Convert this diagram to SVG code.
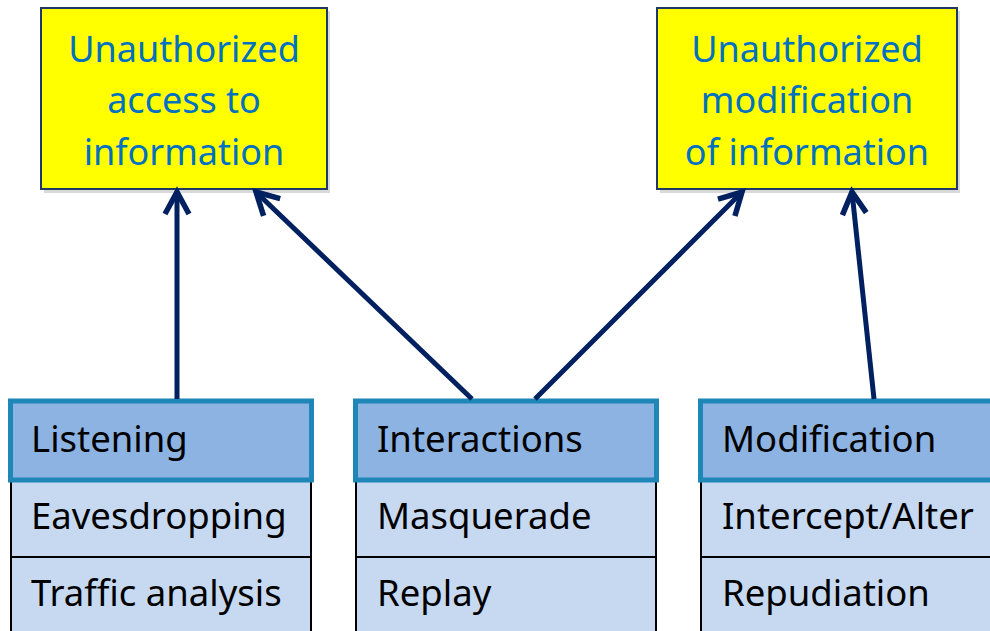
<svg xmlns="http://www.w3.org/2000/svg" width="990" height="631" viewBox="0 0 990 631">
  <style>
    .goal { fill: #FFFF00; stroke: #1F3864; stroke-width: 2; }
    .shadow { fill: #D9D9D9; }
    .goal-text { font-family: "Noto Sans", "Open Sans", sans-serif; font-size: 36px; fill: #0070C0; text-anchor: middle; }
    .head { fill: #8DB3E2; stroke: #1F86B8; stroke-width: 5; }
    .row { fill: #C6D9F1; stroke: #000000; stroke-width: 2; }
    .cell-text { font-family: "Noto Sans", "Open Sans", sans-serif; font-size: 36.5px; fill: #000000; }
    .link { fill: none; stroke: #002060; stroke-width: 5; }
  </style>
  <defs>
    <marker id="open-arrow" markerUnits="userSpaceOnUse" markerWidth="40" markerHeight="40" viewBox="-30 -20 40 40" refX="0" refY="0" orient="auto">
      <path d="M -22 -12 L 0 0 L -22 12" fill="none" stroke="#002060" stroke-width="5.5" stroke-linejoin="miter"/>
    </marker>
  </defs>

  <rect width="990" height="631" fill="#FFFFFF"/>

  <!-- Goal: unauthorized access -->
  <g id="goal-access">
    <rect class="shadow" x="44" y="11" width="286" height="182"/>
    <rect class="goal" x="41" y="8" width="286" height="181"/>
    <text class="goal-text" x="184" y="62">Unauthorized</text>
    <text class="goal-text" x="184" y="113">access to</text>
    <text class="goal-text" x="184" y="165">information</text>
  </g>

  <!-- Goal: unauthorized modification -->
  <g id="goal-modification">
    <rect class="shadow" x="660" y="11" width="300" height="182"/>
    <rect class="goal" x="657" y="8" width="300" height="181"/>
    <text class="goal-text" x="807" y="62">Unauthorized</text>
    <text class="goal-text" x="807" y="113">modification</text>
    <text class="goal-text" x="807" y="165">of information</text>
  </g>

  <!-- Category: listening -->
  <g id="listening">
    <rect class="row" x="11" y="480" width="300" height="77"/>
    <rect class="row" x="11" y="557" width="300" height="90"/>
    <rect class="head" x="10.5" y="401" width="301" height="79"/>
    <text class="cell-text" x="31" y="452">Listening</text>
    <text class="cell-text" x="31" y="529">Eavesdropping</text>
    <text class="cell-text" x="31" y="606">Traffic analysis</text>
  </g>

  <!-- Category: interactions -->
  <g id="interactions">
    <rect class="row" x="356" y="480" width="300" height="77"/>
    <rect class="row" x="356" y="557" width="300" height="90"/>
    <rect class="head" x="355.5" y="401" width="301" height="79"/>
    <text class="cell-text" x="377" y="452">Interactions</text>
    <text class="cell-text" x="377" y="529">Masquerade</text>
    <text class="cell-text" x="377" y="606">Replay</text>
  </g>

  <!-- Category: modification -->
  <g id="modification">
    <rect class="row" x="701" y="480" width="320" height="77"/>
    <rect class="row" x="701" y="557" width="320" height="90"/>
    <rect class="head" x="700.5" y="401" width="320" height="79"/>
    <text class="cell-text" x="722" y="452">Modification</text>
    <text class="cell-text" x="722" y="529">Intercept/Alter</text>
    <text class="cell-text" x="722" y="606">Repudiation</text>
  </g>

  <!-- Connectors -->
  <g id="connectors">
    <line class="link" x1="177" y1="399" x2="177" y2="192" marker-end="url(#open-arrow)"/>
    <line class="link" x1="472" y1="399" x2="256" y2="192" marker-end="url(#open-arrow)"/>
    <line class="link" x1="535" y1="399" x2="742" y2="192" marker-end="url(#open-arrow)"/>
    <line class="link" x1="874" y1="399" x2="852" y2="192" marker-end="url(#open-arrow)"/>
  </g>
</svg>
